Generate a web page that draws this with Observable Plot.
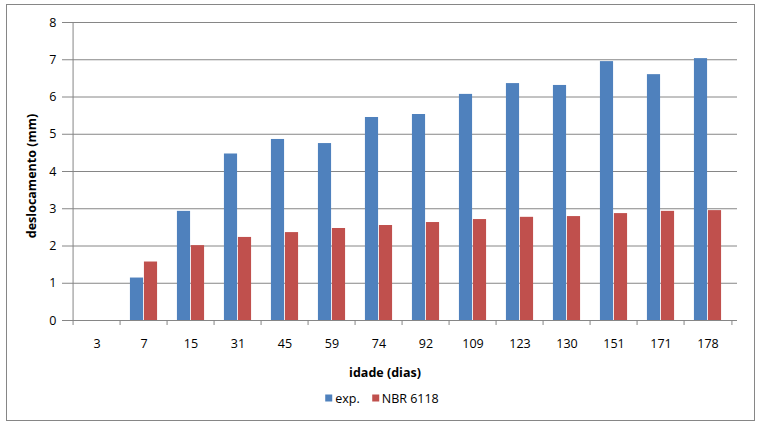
<!DOCTYPE html>
<html><head><meta charset="utf-8">
<script src="https://cdn.jsdelivr.net/npm/d3@7"></script>
<script src="https://cdn.jsdelivr.net/npm/@observablehq/plot@0.6"></script>
<style>
  html, body { margin: 0; padding: 0; background: #fff; }
  #wrap { position: relative; width: 760px; height: 425px; overflow: hidden; font-family: "Open Sans", sans-serif; color: #000; }
  #frame { position: absolute; left: 6px; top: 4px; width: 747px; height: 415px; border: 1px solid #868686; }
  #chart { position: absolute; left: 0; top: 0; }
  .ttl { position: absolute; font-weight: bold; font-size: 12.5px; white-space: nowrap; }
  #ylab { left: 31px; top: 176px; transform: translate(-50%, -50%) rotate(-90deg); }
  #xlab { left: 385px; top: 372px; transform: translate(-50%, -50%); }
  #legend { position: absolute; left: 382px; top: 398px; transform: translate(-50%, -50%); display: flex; align-items: center; font-size: 12.5px; white-space: nowrap; }
  .item { display: flex; align-items: center; margin: 0 6px; }
  .sw { width: 7px; height: 7px; margin-right: 3px; }
</style>
</head><body>
<div id="wrap">
  <div id="frame"></div>
  <div id="chart"></div>
  <div class="ttl" id="ylab">deslocamento (mm)</div>
  <div class="ttl" id="xlab">idade (dias)</div>
  <div id="legend"></div>
</div>
<script>
const categories = ["3", "7", "15", "31", "45", "59", "74", "92", "109", "123", "130", "151", "171", "178"];
const expValues  = [null, 1.14, 2.93, 4.47, 4.86, 4.75, 5.45, 5.53, 6.07, 6.36, 6.31, 6.95, 6.60, 7.03];
const nbrValues  = [null, 1.57, 2.01, 2.23, 2.36, 2.47, 2.55, 2.63, 2.71, 2.77, 2.79, 2.87, 2.93, 2.95];
const yTicks = [0, 1, 2, 3, 4, 5, 6, 7, 8];
const seriesNames = ["exp.", "NBR 6118"];
const seriesColors = ["#4F81BD", "#C0504D"];

const W = 760, H = 425, mL = 67, mR = 23, mT = 22, mB = 105;
const bw = (W - mL - mR) / categories.length;
const barW = 14;
const grid = "#868686";

const expRows = categories.map((c, i) => ({cat: c, series: seriesNames[0], v: expValues[i]})).filter(d => d.v != null);
const nbrRows = categories.map((c, i) => ({cat: c, series: seriesNames[1], v: nbrValues[i]})).filter(d => d.v != null);

const chart = Plot.plot({
  width: W, height: H,
  marginLeft: mL, marginRight: mR, marginTop: mT, marginBottom: mB,
  style: {fontFamily: "Open Sans, sans-serif", fontSize: "12.5px", color: "#000", background: "transparent", overflow: "visible"},
  x: {type: "band", domain: categories, padding: 0, axis: null, label: null},
  y: {domain: [0, 8], axis: null, label: null},
  color: {domain: seriesNames, range: seriesColors},
  marks: [
    Plot.gridY(yTicks, {stroke: grid, strokeOpacity: 1}),
    Plot.ruleX([categories[0]], {dx: -bw / 2, stroke: grid}),
    Plot.axisY(yTicks, {tickSize: 5, tickPadding: 6, stroke: grid, label: null, tickFormat: d => String(d)}),
    Plot.axisX(categories, {tickSize: 0, tickPadding: 18.5, label: null}),
    Plot.axisX(categories, {tickSize: 5, tickFormat: () => "", label: null, dx: -bw / 2, stroke: grid}),
    Plot.axisX([categories[categories.length - 1]], {tickSize: 5, tickFormat: () => "", label: null, dx: bw / 2, stroke: grid}),
    Plot.barY(expRows, {x: "cat", y: "v", fill: "series", insetLeft: bw / 2 - barW, insetRight: bw / 2}),
    Plot.barY(nbrRows, {x: "cat", y: "v", fill: "series", insetLeft: bw / 2, insetRight: bw / 2 - barW})
  ]
});
document.getElementById("chart").appendChild(chart);

const legend = document.getElementById("legend");
seriesNames.forEach((name, i) => {
  const item = document.createElement("div");
  item.className = "item";
  const sw = document.createElement("span");
  sw.className = "sw";
  sw.style.background = seriesColors[i];
  const t = document.createElement("span");
  t.textContent = name;
  item.appendChild(sw); item.appendChild(t);
  legend.appendChild(item);
});
</script>
</body></html>
